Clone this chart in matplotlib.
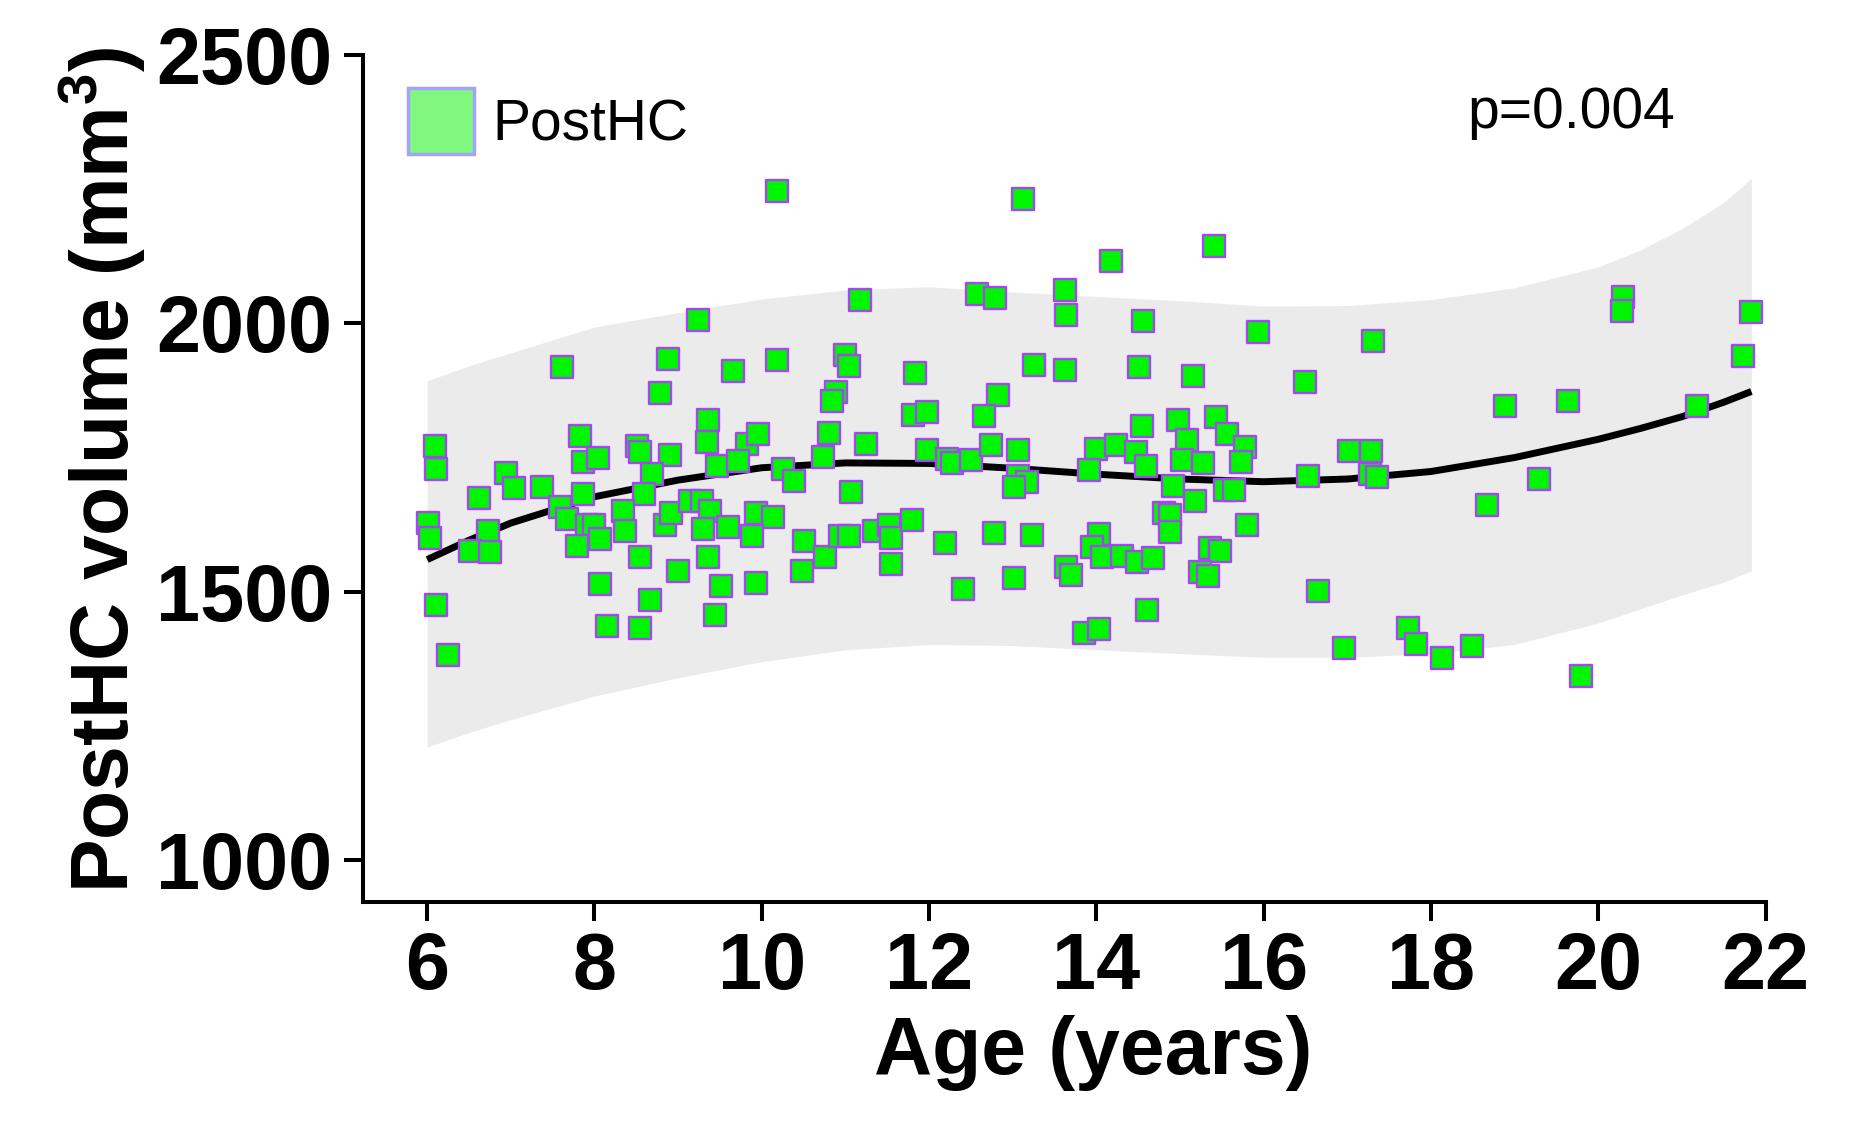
import matplotlib
matplotlib.use("Agg")
import matplotlib.pyplot as plt
from matplotlib.lines import Line2D

plt.rcParams['font.family'] = ['Liberation Sans', 'DejaVu Sans']
plt.rcParams['mathtext.fontset'] = 'custom'
plt.rcParams['mathtext.rm'] = 'Liberation Sans'
plt.rcParams['mathtext.bf'] = 'Liberation Sans:bold'

### scatter data: age (years) and PostHC volume (mm3)
age = [10.18, 11.17, 9.24, 7.61, 8.88, 8.78, 9.65, 10.18, 11.00, 11.04,
       10.89, 10.84, 11.25, 10.80, 10.73, 10.25, 10.38, 9.36, 9.34, 9.46,
       9.82, 9.95, 9.71, 7.83, 7.86, 8.04, 8.51, 8.54, 8.90, 8.69,
       8.59, 7.86, 6.09, 6.11, 6.94, 7.04, 7.37, 6.62, 6.01, 6.03,
       6.73, 6.51, 6.75, 7.59, 7.67, 7.91, 7.99, 7.79, 8.07, 8.34,
       8.36, 8.55, 8.06, 8.66, 8.15, 8.55, 9.00, 9.44, 9.51, 9.93,
       10.48, 6.11, 6.25, 8.84, 8.92, 9.14, 9.28, 9.38, 9.30, 9.36,
       9.60, 9.93, 10.14, 9.88, 10.50, 10.76, 10.94, 11.04, 11.07, 11.34,
       11.52, 11.54, 11.54,
       13.12, 14.18, 15.41, 12.57, 12.79, 13.63, 13.64, 14.56, 15.93, 17.31,
       13.26, 13.63, 11.83, 14.51, 15.15, 16.49, 12.82, 11.81, 11.97, 12.66,
       14.54, 14.97, 15.43, 15.08, 15.56, 15.78, 11.97, 12.21, 12.27, 12.50,
       12.74, 13.06, 13.06, 13.17, 13.01, 14.00, 14.24, 14.47, 13.91, 14.59,
       15.02, 15.28, 15.73, 14.92, 15.54, 15.64, 15.18, 16.53, 17.02, 17.28,
       17.27, 14.81, 14.88, 14.88, 15.80, 11.79, 12.19, 12.77, 13.23, 12.41,
       13.01, 14.03, 13.95, 14.07, 14.31, 14.49, 14.68, 13.64, 13.70, 15.36,
       15.48, 15.24, 15.34, 14.61, 13.85, 14.03, 16.65, 16.96,
       20.30, 20.28, 21.83, 21.73, 18.88, 19.64, 21.18, 17.36, 19.29, 18.67,
       17.72, 17.82, 18.13, 18.49, 19.79]

volume = [2246, 2043, 2007, 1918, 1933, 1871, 1911, 1931, 1941, 1921,
          1872, 1856, 1775, 1795, 1751, 1728, 1707, 1820, 1779, 1735,
          1775, 1794, 1743, 1790, 1741, 1749, 1771, 1761, 1754, 1719,
          1683, 1683, 1771, 1728, 1722, 1694, 1696, 1675, 1628, 1600,
          1614, 1576, 1575, 1657, 1635, 1624, 1624, 1585, 1598, 1651,
          1614, 1565, 1514, 1485, 1436, 1433, 1539, 1457, 1510, 1516,
          1539, 1475, 1382, 1624, 1647, 1670, 1670, 1650, 1617, 1565,
          1621, 1647, 1640, 1604, 1594, 1565, 1604, 1604, 1686, 1614,
          1624, 1601, 1552,
          2232, 2115, 2144, 2055, 2047, 2061, 2016, 2005, 1983, 1967,
          1923, 1913, 1907, 1918, 1901, 1890, 1867, 1830, 1834, 1828,
          1809, 1820, 1826, 1782, 1794, 1770, 1764, 1748, 1739, 1745,
          1774, 1764, 1715, 1704, 1696, 1766, 1774, 1761, 1727, 1735,
          1745, 1739, 1741, 1697, 1690, 1690, 1670, 1715, 1762, 1762,
          1719, 1647, 1643, 1611, 1625, 1634, 1590, 1609, 1606, 1506,
          1526, 1608, 1583, 1565, 1566, 1555, 1563, 1547, 1532, 1581,
          1576, 1537, 1529, 1466, 1423, 1431, 1501, 1395,
          2048, 2023, 2021, 1939, 1846, 1855, 1846, 1714, 1710, 1662,
          1433, 1403, 1377, 1399, 1343]

### fitted curve and its band
fit_age = [6, 6.5, 7, 8, 9, 10, 11, 12, 13, 14, 15, 16, 17, 18, 19, 20,
           20.5, 21, 21.5, 21.83]
fit_vol = [1560, 1596, 1628, 1677, 1708, 1731, 1740, 1739, 1730, 1719, 1710,
           1705, 1710, 1724, 1750, 1784, 1804, 1826, 1853, 1873]
band_hi = [1893, 1921, 1945, 1993, 2020, 2045, 2062, 2068, 2058, 2050, 2042,
           2032, 2033, 2044, 2066, 2105, 2136, 2176, 2225, 2270]
band_lo = [1211, 1238, 1262, 1306, 1340, 1370, 1392, 1402, 1400, 1392, 1385,
           1378, 1378, 1385, 1402, 1442, 1468, 1494, 1518, 1539]

xticks = [6, 8, 10, 12, 14, 16, 18, 20, 22]
yticks = [1000, 1500, 2000, 2500]

fig = plt.figure(figsize=(18.66, 11.21), dpi=100)
ax = fig.add_axes([0.1945, 0.1956, 0.7517, 0.7556])

ax.fill_between(fit_age, band_lo, band_hi, color="#ebebeb", lw=0, zorder=1)
ax.plot(fit_age, fit_vol, color="black", lw=5, zorder=2, solid_capstyle="butt")
ax.scatter(age, volume, marker="s", s=240, facecolor="#00f500",
           edgecolor="#a447f0", linewidth=1.7, zorder=3)

ax.set_xlim(5.232, 22.0)
ax.set_ylim(923, 2500)
ax.set_xticks(xticks)
ax.set_yticks(yticks)

for side in ["top", "right"]:
    ax.spines[side].set_visible(False)
for side in ["left", "bottom"]:
    ax.spines[side].set_linewidth(2.9)
ax.tick_params(axis="both", direction="out", length=14, width=2.9)
ax.tick_params(axis="x", pad=7)
ax.tick_params(axis="y", pad=8)
for lab in ax.get_xticklabels() + ax.get_yticklabels():
    lab.set_fontsize(57)
    lab.set_fontweight("bold")

ax.set_xlabel("Age (years)", fontsize=58, fontweight="bold")
ax.xaxis.set_label_coords(0.5204, -0.134)
ax.set_ylabel(r"PostHC volume (mm$^{\mathbf{3}}$)", fontsize=58,
              fontweight="bold", va="center")
ax.yaxis.set_label_coords(-0.186, 0.51)

handle = Line2D([], [], marker="s", ls="", markersize=47,
                markerfacecolor="#80f880", markeredgecolor="#a3a3ff",
                markeredgewidth=2.5)
ax.legend(handles=[handle], labels=["PostHC"], loc="upper left",
          bbox_to_anchor=(0.0356, 0.948), frameon=False, fontsize=41,
          handlelength=1.0, handletextpad=0.4, borderpad=0, borderaxespad=0)

ax.text(0.8614, 0.9131, "p=0.004", transform=ax.transAxes, fontsize=41,
        ha="center", va="baseline")

fig.savefig("out.png", dpi=100)
